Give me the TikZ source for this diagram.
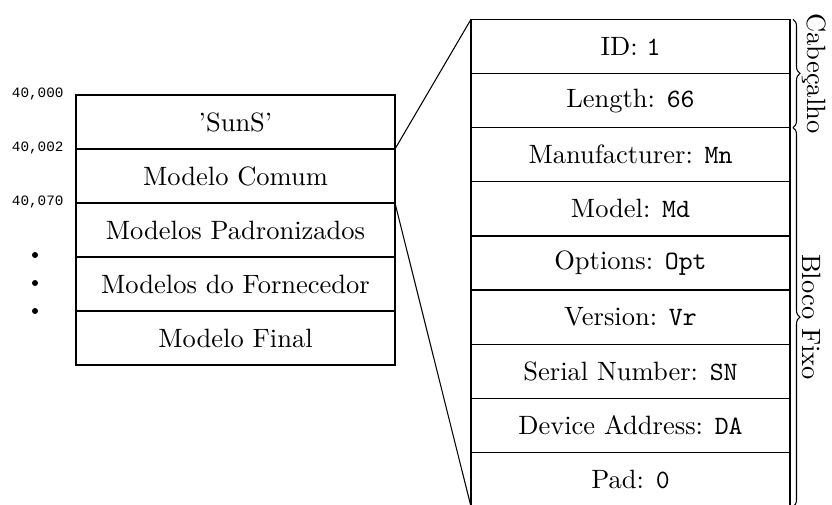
\documentclass[tikz,border=0pt]{standalone}
\usepackage{fontspec}
\newfontfamily\addrfont{Liberation Mono}
\usetikzlibrary{decorations.pathreplacing}
\def\pxu{0.3774pt}
\tikzset{
  cell/.style={draw, line width=0.5pt, inner sep=0pt, outer sep=0pt,
    minimum width=319*\pxu, font=\normalsize},
  leftcell/.style={cell, minimum height=54*\pxu},
  rightcell/.style={cell, minimum height=54.15*\pxu},
  addr/.style={anchor=east, inner sep=0pt, font=\addrfont\fontsize{5.4pt}{6pt}\selectfont},
  dot/.style={circle, fill, inner sep=0pt, minimum size=6*\pxu},
  link/.style={line width=0.4pt},
  bracestyle/.style={decorate, line width=0.4pt,
    decoration={brace, amplitude=7*\pxu, raise=3*\pxu}},
  bracelabel/.style={rotate=-90, anchor=south, inner sep=0pt}
}
\begin{document}
\begin{tikzpicture}[x=\pxu, y=-\pxu]
\useasboundingbox (0,0) rectangle (832,504);
\clip (0,0) rectangle (832,504);

% memory map
\node[leftcell] (l1) at (235.5,122) {'SunS'};
\node[leftcell] (l2) at (235.5,176) {Modelo Comum};
\node[leftcell] (l3) at (235.5,230) {Modelos Padronizados};
\node[leftcell] (l4) at (235.5,284) {Modelos do Fornecedor};
\node[leftcell] (l5) at (235.5,338) {Modelo Final};

% register addresses
\node[addr] (a1) at (64,94) {40,000};
\node[addr] (a2) at (64,148) {40,002};
\node[addr] (a3) at (64,202) {40,070};

% continuation dots
\node[dot] (d1) at (35,255) {};
\node[dot] (d2) at (35,283) {};
\node[dot] (d3) at (35,311) {};

% common model contents
\node[rightcell] (r1) at (630.5,46.38) {ID: \texttt{1}};
\node[rightcell] (r2) at (630.5,100.53) {Length: \texttt{66}};
\node[rightcell] (r3) at (630.5,154.68) {Manufacturer: \texttt{Mn}};
\node[rightcell] (r4) at (630.5,208.83) {Model: \texttt{Md}};
\node[rightcell] (r5) at (630.5,262.98) {Options: \texttt{Opt}};
\node[rightcell] (r6) at (630.5,317.13) {Version: \texttt{Vr}};
\node[rightcell] (r7) at (630.5,371.28) {Serial Number: \texttt{SN}};
\node[rightcell] (r8) at (630.5,425.43) {Device Address: \texttt{DA}};
\node[rightcell] (r9) at (630.5,479.58) {Pad: \texttt{0}};

% zoom lines
\draw[link] (l1.south east) -- (r1.north west);
\draw[link] (l2.south east) -- (r9.south west);

% groupings
\draw[bracestyle] (r1.north east) -- (r2.south east);
\draw[bracestyle] (r3.north east) -- (r9.south east);
\node[bracelabel] (cab) at (802,73.45) {Cabeçalho};
\node[bracelabel] (blo) at (802,317.1) {Bloco Fixo};
\end{tikzpicture}
\end{document}
